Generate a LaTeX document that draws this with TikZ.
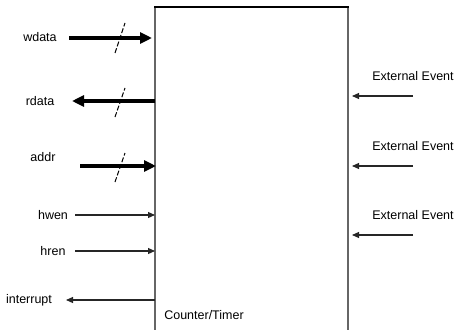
\documentclass[tikz,border=0pt]{standalone}
\usepackage{fontspec}
\setmainfont{Liberation Sans}
\usetikzlibrary{arrows.meta}
\begin{document}
\begin{tikzpicture}[x=1pt,y=-1pt,
  lbl/.style={inner sep=0pt,font=\fontsize{12.5}{14}\selectfont},
  bus/.style={line width=3.2pt,-{Triangle[length=12pt,width=11pt]}},
  busback/.style={line width=3.2pt,{Triangle[length=12pt,width=11pt]}-},
  sig/.style={line width=1.1pt,draw=black!85,-{Triangle[length=7pt,width=6pt]}},
  sigback/.style={line width=1.1pt,draw=black!85,{Triangle[length=7pt,width=6pt]}-},
  slash/.style={line width=1pt,dash pattern=on 5pt off 2pt}]
\useasboundingbox (0,0) rectangle (457,329);
% block
\coordinate (bl) at (155,331);
\coordinate (tl) at (155,7);
\coordinate (tr) at (348,7);
\coordinate (br) at (348,331);
\draw[line width=2pt,draw=black!60] (bl) -- (tl);
\draw[line width=2pt,draw=black!60] (tr) -- (br);
\draw[line width=1.6pt,draw=black] ([xshift=-1pt]tl) -- ([xshift=1pt]tr);
\node[lbl] (ct) at (204,315) {Counter/Timer};
% labels
\node[lbl] (wdata) at (40,37) {wdata};
\node[lbl] (rdata) at (40,101) {rdata};
\node[lbl] (addr) at (43,157) {addr};
\node[lbl] (hwen) at (53,215) {hwen};
\node[lbl] (hren) at (53,251) {hren};
\node[lbl] (intr) at (29,300) {interrupt};
\node[lbl] (ev1) at (413,76) {External Event};
\node[lbl] (ev2) at (413,146) {External Event};
\node[lbl] (ev3) at (413,215) {External Event};
% connector end points
\coordinate (w0) at (69,38);   \coordinate (w1) at (152,38);
\coordinate (r0) at (72,101);  \coordinate (r1) at (155,101);
\coordinate (a0) at (80,166);  \coordinate (a1) at (156,166);
\coordinate (hw0) at (75,215); \coordinate (hw1) at (155,215);
\coordinate (hr0) at (75,251); \coordinate (hr1) at (155,251);
\coordinate (i0) at (66,300);  \coordinate (i1) at (155,300);
\coordinate (e10) at (413,96);  \coordinate (e11) at (352,96);
\coordinate (e20) at (413,166); \coordinate (e21) at (352,166);
\coordinate (e30) at (413,235); \coordinate (e31) at (352,235);
% buses
\draw[bus] (w0) -- (w1);
\draw[busback] (r0) -- (r1);
\draw[bus] (a0) -- (a1);
% bus slashes
\coordinate (sw0) at (115,53); \coordinate (sw1) at (125,23);
\coordinate (sr0) at (115,117); \coordinate (sr1) at (125,88);
\coordinate (sa0) at (115,182); \coordinate (sa1) at (125,153);
\draw[slash] (sw0) -- (sw1);
\draw[slash] (sr0) -- (sr1);
\draw[slash] (sa0) -- (sa1);
% single signals
\draw[sig] (hw0) -- (hw1);
\draw[sig] (hr0) -- (hr1);
\draw[sigback] (i0) -- (i1);
\draw[sig] (e10) -- (e11);
\draw[sig] (e20) -- (e21);
\draw[sig] (e30) -- (e31);
\end{tikzpicture}
\end{document}
